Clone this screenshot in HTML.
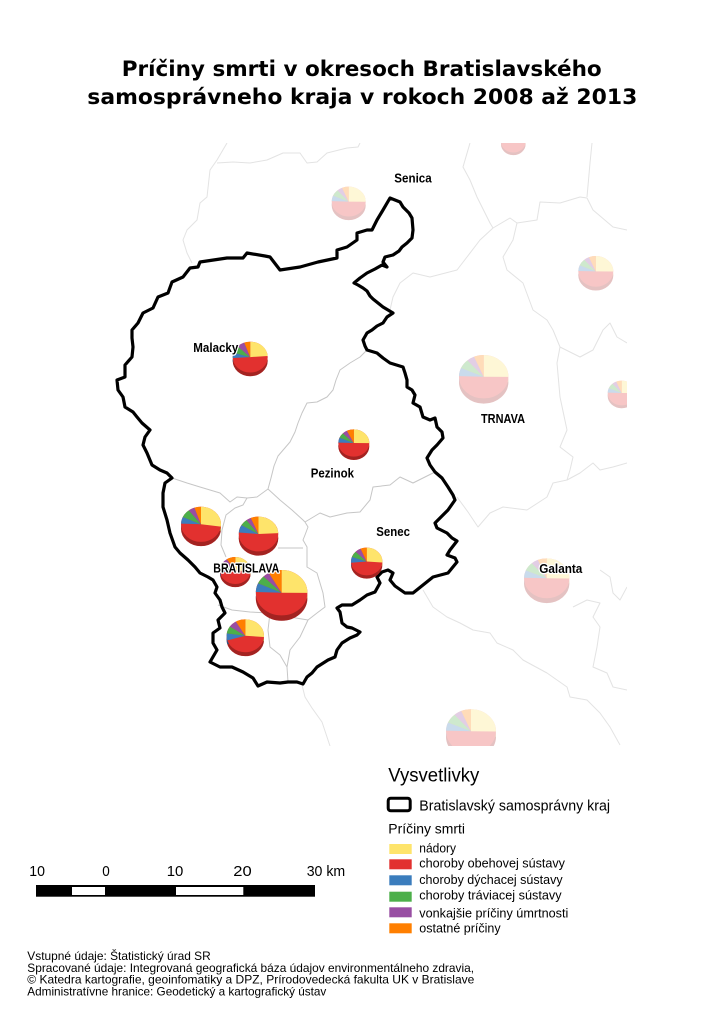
<!DOCTYPE html>
<html>
<head>
<meta charset="utf-8">
<style>
html,body{margin:0;padding:0;background:#fff;}
body{width:724px;height:1024px;overflow:hidden;}
svg{display:block;}
.t{font-family:"Liberation Sans",Arial,sans-serif;fill:#000;}
.lb{font-family:"Liberation Sans",Arial,sans-serif;font-weight:bold;fill:#000;stroke:#fff;stroke-width:2.6px;stroke-linejoin:round;paint-order:stroke;}
</style>
</head>
<body>
<svg xmlns="http://www.w3.org/2000/svg" xmlns:xlink="http://www.w3.org/1999/xlink" width="724" height="1024" viewBox="0 0 724 1024">
<defs>
<clipPath id="mc"><rect x="0" y="143" width="627" height="603"/></clipPath>

<g id="pMal" fill="none" stroke-width="31.831" transform="rotate(-90)">
<circle r="15.9155" stroke="#e2312f"/>
<circle r="15.9155" stroke="#fee46b" stroke-dasharray="23.6 100"/>
<circle r="15.9155" stroke="#3b7dbd" stroke-dasharray="5.6 100" stroke-dashoffset="-73.6"/>
<circle r="15.9155" stroke="#4caf4a" stroke-dasharray="7.6 100" stroke-dashoffset="-79.2"/>
<circle r="15.9155" stroke="#984ea3" stroke-dasharray="7 100" stroke-dashoffset="-86.8"/>
<circle r="15.9155" stroke="#ff7f00" stroke-dasharray="6.2 100" stroke-dashoffset="-93.8"/>
</g>
<g id="pBII" fill="none" stroke-width="31.831" transform="rotate(-90)">
<circle r="15.9155" stroke="#e2312f"/>
<circle r="15.9155" stroke="#fee46b" stroke-dasharray="25 100"/>
<circle r="15.9155" stroke="#3b7dbd" stroke-dasharray="6.3 100" stroke-dashoffset="-75"/>
<circle r="15.9155" stroke="#4caf4a" stroke-dasharray="5.8 100" stroke-dashoffset="-81.3"/>
<circle r="15.9155" stroke="#984ea3" stroke-dasharray="4 100" stroke-dashoffset="-87.1"/>
<circle r="15.9155" stroke="#ff7f00" stroke-dasharray="8.9 100" stroke-dashoffset="-91.1"/>
</g>
<g id="pBIV" fill="none" stroke-width="31.831" transform="rotate(-90)">
<circle r="15.9155" stroke="#e2312f"/>
<circle r="15.9155" stroke="#fee46b" stroke-dasharray="27 100"/>
<circle r="15.9155" stroke="#3b7dbd" stroke-dasharray="6.2 100" stroke-dashoffset="-75.1"/>
<circle r="15.9155" stroke="#4caf4a" stroke-dasharray="7.7 100" stroke-dashoffset="-81.3"/>
<circle r="15.9155" stroke="#984ea3" stroke-dasharray="5 100" stroke-dashoffset="-89"/>
<circle r="15.9155" stroke="#ff7f00" stroke-dasharray="6 100" stroke-dashoffset="-94"/>
</g>
<g id="pBIII" fill="none" stroke-width="31.831" transform="rotate(-90)">
<circle r="15.9155" stroke="#e2312f"/>
<circle r="15.9155" stroke="#fee46b" stroke-dasharray="24 100"/>
<circle r="15.9155" stroke="#3b7dbd" stroke-dasharray="7 100" stroke-dashoffset="-76"/>
<circle r="15.9155" stroke="#4caf4a" stroke-dasharray="6 100" stroke-dashoffset="-83"/>
<circle r="15.9155" stroke="#984ea3" stroke-dasharray="4 100" stroke-dashoffset="-89"/>
<circle r="15.9155" stroke="#ff7f00" stroke-dasharray="7 100" stroke-dashoffset="-93"/>
</g>
<g id="pBV" fill="none" stroke-width="31.831" transform="rotate(-90)">
<circle r="15.9155" stroke="#e2312f"/>
<circle r="15.9155" stroke="#fee46b" stroke-dasharray="26 100"/>
<circle r="15.9155" stroke="#3b7dbd" stroke-dasharray="7 100" stroke-dashoffset="-70"/>
<circle r="15.9155" stroke="#4caf4a" stroke-dasharray="7 100" stroke-dashoffset="-77"/>
<circle r="15.9155" stroke="#984ea3" stroke-dasharray="7 100" stroke-dashoffset="-84"/>
<circle r="15.9155" stroke="#ff7f00" stroke-dasharray="9 100" stroke-dashoffset="-91"/>
</g>
<g id="pBI" fill="none" stroke-width="31.831" transform="rotate(-90)">
<circle r="15.9155" stroke="#e2312f"/>
<circle r="15.9155" stroke="#fee46b" stroke-dasharray="26 100"/>
<circle r="15.9155" stroke="#3b7dbd" stroke-dasharray="6 100" stroke-dashoffset="-72"/>
<circle r="15.9155" stroke="#4caf4a" stroke-dasharray="6 100" stroke-dashoffset="-78"/>
<circle r="15.9155" stroke="#984ea3" stroke-dasharray="6 100" stroke-dashoffset="-84"/>
<circle r="15.9155" stroke="#ff7f00" stroke-dasharray="10 100" stroke-dashoffset="-90"/>
</g>
<g id="pPez" fill="none" stroke-width="31.831" transform="rotate(-90)">
<circle r="15.9155" stroke="#e2312f"/>
<circle r="15.9155" stroke="#fee46b" stroke-dasharray="25 100"/>
<circle r="15.9155" stroke="#3b7dbd" stroke-dasharray="6 100" stroke-dashoffset="-75"/>
<circle r="15.9155" stroke="#4caf4a" stroke-dasharray="6 100" stroke-dashoffset="-81"/>
<circle r="15.9155" stroke="#984ea3" stroke-dasharray="5 100" stroke-dashoffset="-87"/>
<circle r="15.9155" stroke="#ff7f00" stroke-dasharray="8 100" stroke-dashoffset="-92"/>
</g>
<g id="pSen" fill="none" stroke-width="31.831" transform="rotate(-90)">
<circle r="15.9155" stroke="#e2312f"/>
<circle r="15.9155" stroke="#fee46b" stroke-dasharray="26 100"/>
<circle r="15.9155" stroke="#3b7dbd" stroke-dasharray="7 100" stroke-dashoffset="-73"/>
<circle r="15.9155" stroke="#4caf4a" stroke-dasharray="7 100" stroke-dashoffset="-80"/>
<circle r="15.9155" stroke="#984ea3" stroke-dasharray="6 100" stroke-dashoffset="-87"/>
<circle r="15.9155" stroke="#ff7f00" stroke-dasharray="7 100" stroke-dashoffset="-93"/>
</g>
<g id="pF" fill="none" stroke-width="31.831" transform="rotate(-90)">
<circle r="15.9155" stroke="#e2312f"/>
<circle r="15.9155" stroke="#fee46b" stroke-dasharray="25 100"/>
<circle r="15.9155" stroke="#3b7dbd" stroke-dasharray="6 100" stroke-dashoffset="-75"/>
<circle r="15.9155" stroke="#4caf4a" stroke-dasharray="7 100" stroke-dashoffset="-81"/>
<circle r="15.9155" stroke="#984ea3" stroke-dasharray="5 100" stroke-dashoffset="-88"/>
<circle r="15.9155" stroke="#ff7f00" stroke-dasharray="7 100" stroke-dashoffset="-93"/>
</g>
</defs>

<rect width="724" height="1024" fill="#fff"/>

<!-- Title -->
<text x="121.7" y="76" font-family="'DejaVu Sans',Verdana,sans-serif" font-weight="bold" font-size="21.7" textLength="480" lengthAdjust="spacingAndGlyphs">Príčiny smrti v okresoch Bratislavského</text>
<text x="87.3" y="104" font-family="'DejaVu Sans',Verdana,sans-serif" font-weight="bold" font-size="21.7" textLength="550" lengthAdjust="spacingAndGlyphs">samosprávneho kraja v rokoch 2008 až 2013</text>

<!-- Map -->
<g clip-path="url(#mc)">
 <g fill="none" stroke="#e3e3e3" stroke-width="1" stroke-linejoin="round">
  <polyline points="227,143 217,160 210,170 207,197 200,203 197,220 187,230 183,240 187,253 192,263"/>
  <polyline points="217,163 233,162 250,163 267,160 283,153 300,153 307,163 317,162 327,153 347,148 358,147 360,143"/>
  <polyline points="470,143 463,167 470,180 477,197 490,223 493,228 480,240 467,257 457,270 430,277 413,273 400,283 393,297 390,310"/>
  <polyline points="493,228 510,218 517,223 537,220 540,202 560,203 580,197 587,198 593,210 613,227 627,230"/>
  <polyline points="587,197 590,163 592,143"/>
  <polyline points="517,223 513,240 503,257 507,270 523,283 533,310 547,320 553,330 560,347 580,357 593,350 603,330 610,323 617,337 627,343"/>
  <polyline points="560,347 557,363 560,397 567,430 560,447 573,457 570,470 567,480"/>
  <polyline points="457,497 468,512 478,527 490,513 503,507 527,510 547,497 553,483 567,480 580,473 593,463 600,470 613,467 627,463"/>
  <polyline points="423,590 433,607 447,617 460,623 473,630 490,633 497,643 513,650 523,660 547,673 567,687 570,697 587,700 600,713 610,727 620,745"/>
  <polyline points="573,607 587,600 600,603 593,617 600,627 597,647 593,667 607,673 613,687 627,690"/>
  <polyline points="600,570 610,577 613,593 620,600 627,587"/>
  <polyline points="302,685 305,697 312,708 322,722 330,746"/>
 </g>
 <!-- faded neighbour pies -->
 <g opacity="0.27">
  <use href="#pF" transform="translate(348.7,205.2) scale(.5341,.4700)"/>
  <ellipse cx="348.7" cy="205.2" rx="17" ry="14.96" fill="#000" fill-opacity=".3"/>
  <use href="#pF" transform="translate(348.7,201.6) scale(.5341,.4700)"/>
 </g>
 <g opacity="0.27">
  <use href="#pF" transform="translate(513.3,144.3) scale(.3864,.3400)"/>
  <ellipse cx="513.3" cy="144.3" rx="12.3" ry="10.8" fill="#000" fill-opacity=".3"/>
  <use href="#pF" transform="translate(513.3,141.7) scale(.3864,.3400)"/>
 </g>
 <g opacity="0.27">
  <use href="#pF" transform="translate(595.8,275.1) scale(.5498,.4838)"/>
  <ellipse cx="595.8" cy="275.1" rx="17.5" ry="15.4" fill="#000" fill-opacity=".3"/>
  <use href="#pF" transform="translate(595.8,271.4) scale(.5498,.4838)"/>
 </g>
 <g opacity="0.27">
  <use href="#pF" transform="translate(483.7,381.9) scale(.7760,.6829)"/>
  <ellipse cx="483.7" cy="381.9" rx="24.7" ry="21.7" fill="#000" fill-opacity=".3"/>
  <use href="#pF" transform="translate(483.7,376.7) scale(.7760,.6829)"/>
 </g>
 <g opacity="0.27">
  <use href="#pF" transform="translate(621.7,395.9) scale(.4398,.3870)"/>
  <ellipse cx="621.7" cy="395.9" rx="14" ry="12.3" fill="#000" fill-opacity=".3"/>
  <use href="#pF" transform="translate(621.7,393) scale(.4398,.3870)"/>
 </g>
 <g opacity="0.27">
  <use href="#pF" transform="translate(546.7,583.1) scale(.7131,.6276)"/>
  <ellipse cx="546.7" cy="583.1" rx="22.7" ry="20" fill="#000" fill-opacity=".3"/>
  <use href="#pF" transform="translate(546.7,578.3) scale(.7131,.6276)"/>
 </g>
 <g opacity="0.27">
  <use href="#pF" transform="translate(471,736.6) scale(.7854,.6912)"/>
  <ellipse cx="471" cy="736.6" rx="25" ry="22" fill="#000" fill-opacity=".3"/>
  <use href="#pF" transform="translate(471,731.3) scale(.7854,.6912)"/>
 </g>
</g>

<!-- inner district borders -->
<g fill="none" stroke="#c6c6c6" stroke-width="1" stroke-linejoin="round">
 <polyline points="367,350 360,357 350,363 340,370 336,380 333,390 327,397 317,402 307,403 302,413 298,423 295,432 290,442 284,449 278,456 274,466 271,478 268,489 257,497 247,498 237,497 230,502 220,493 210,490 200,487 187,483 172,478"/>
 <polyline points="435,472 413,483 400,477 390,485 373,487 370,500 360,512 347,513 330,517 320,513 305,522"/>
 <polyline points="268,489 280,500 292,510 303,520 305,522"/>
 <polyline points="247,498 243,505 235,508 226,515 222,530 221,545 226,557"/>
 <polyline points="278,548 303,548"/>
 <polyline points="305,522 308,527 305,535 303,540 307,547 307,567 317,573 323,593 325,607 317,613 308,620 300,637 290,650 287,667 288,682"/>
 <polyline points="218,605 232,610 250,612 270,613 290,617 308,620"/>
 <polyline points="270,613 268,630 270,647 280,655 287,667"/>
</g>

<!-- Bratislava region outline -->
<path fill="none" stroke="#000" stroke-width="3.2" stroke-linejoin="round" stroke-linecap="round" d="M390,198 L400,202 L403,207 L409,213 L412,218 L413,230 L412,238 L407,243 L402,247 L399,251 L393,255 L385,257 L383,262 L387,267 L382,265 L375,269 L367,273 L360,278 L354,283 L358,285 L363,288 L367,291 L370,296 L373,299 L378,303 L383,307 L393,313 L387,317 L383,323 L377,326 L372,330 L367,333 L363,340 L365,346 L367,350 L377,353 L383,358 L390,363 L403,367 L405,373 L407,380 L407,387 L412,390 L415,395 L413,403 L420,407 L423,417 L430,420 L435,418 L437,427 L442,432 L443,438 L437,445 L432,450 L427,458 L430,465 L435,472 L442,478 L448,487 L453,495 L455,500 L448,510 L443,515 L435,523 L437,528 L447,533 L452,538 L457,541 L450,550 L447,555 L455,558 L457,562 L448,573 L433,577 L423,585 L413,593 L405,593 L395,586 L390,580 L393,573 L388,570 L382,572 L377,577 L380,583 L375,592 L367,595 L360,600 L352,605 L342,605 L337,608 L340,612 L342,623 L347,627 L352,628 L360,632 L357,635 L350,638 L342,643 L337,650 L335,657 L328,660 L317,667 L312,673 L307,677 L303,684 L297,682 L288,682 L280,683 L267,682 L258,686 L253,678 L243,672 L232,667 L220,667 L210,662 L217,650 L213,643 L213,633 L220,628 L218,620 L225,613 L222,607 L220,600 L215,593 L217,587 L213,580 L208,577 L200,573 L195,567 L188,560 L180,553 L175,547 L170,533 L167,520 L163,507 L163,493 L165,483 L172,478 L167,473 L160,470 L152,465 L147,453 L143,445 L145,437 L150,430 L142,423 L137,417 L133,412 L125,407 L123,397 L118,390 L117,380 L125,377 L125,365 L132,357 L133,347 L132,338 L132,330 L138,323 L143,313 L153,308 L158,297 L168,293 L172,282 L183,277 L190,268 L198,267 L200,262 L227,258 L243,258 L247,253 L265,256 L270,257 L280,270 L300,267 L318,262 L337,258 L337,250 L347,247 L357,240 L357,233 L367,230 L372,230 L377,220 L383,210 Z"/>

<!-- active pies -->
<g>
 <use href="#pMal" transform="translate(250.2,360.8) scale(.5498,.4838)"/>
 <ellipse cx="250.2" cy="360.8" rx="17.5" ry="15.4" fill="#000" fill-opacity=".28"/>
 <use href="#pMal" transform="translate(250.2,357.1) scale(.5498,.4838)"/>

 <use href="#pPez" transform="translate(353.8,446.3) scale(.4869,.4285)"/>
 <ellipse cx="353.8" cy="446.3" rx="15.5" ry="13.64" fill="#000" fill-opacity=".28"/>
 <use href="#pPez" transform="translate(353.8,443) scale(.4869,.4285)"/>

 <use href="#pSen" transform="translate(366.7,564.8) scale(.4932,.4340)"/>
 <ellipse cx="366.7" cy="564.8" rx="15.7" ry="13.8" fill="#000" fill-opacity=".28"/>
 <use href="#pSen" transform="translate(366.7,561.5) scale(.4932,.4340)"/>

 <use href="#pBIV" transform="translate(201,528.5) scale(.6283,.5529)"/>
 <ellipse cx="201" cy="528.5" rx="20" ry="17.6" fill="#000" fill-opacity=".28"/>
 <use href="#pBIV" transform="translate(201,524.3) scale(.6283,.5529)"/>

 <use href="#pBIII" transform="translate(258.5,538.2) scale(.6220,.5474)"/>
 <ellipse cx="258.5" cy="538.2" rx="19.8" ry="17.4" fill="#000" fill-opacity=".28"/>
 <use href="#pBIII" transform="translate(258.5,534) scale(.6220,.5474)"/>

 <use href="#pBI" transform="translate(235.3,573.7) scale(.4807,.4230)"/>
 <ellipse cx="235.3" cy="573.7" rx="15.3" ry="13.46" fill="#000" fill-opacity=".28"/>
 <use href="#pBI" transform="translate(235.3,570.5) scale(.4807,.4230)"/>

 <use href="#pBII" transform="translate(281.6,598.1) scale(.8105,.7133)"/>
 <ellipse cx="281.6" cy="598.1" rx="25.8" ry="22.7" fill="#000" fill-opacity=".28"/>
 <use href="#pBII" transform="translate(281.6,592.7) scale(.8105,.7133)"/>

 <use href="#pBV" transform="translate(245.3,639.7) scale(.5875,.5170)"/>
 <ellipse cx="245.3" cy="639.7" rx="18.7" ry="16.46" fill="#000" fill-opacity=".28"/>
 <use href="#pBV" transform="translate(245.3,635.8) scale(.5875,.5170)"/>
</g>

<!-- place labels -->
<text class="lb" x="394.3" y="182.5" font-size="13" textLength="37.4" lengthAdjust="spacingAndGlyphs">Senica</text>
<text class="lb" x="193.3" y="352" font-size="13" textLength="45" lengthAdjust="spacingAndGlyphs">Malacky</text>
<text class="lb" x="310.7" y="477.3" font-size="13" textLength="43.3" lengthAdjust="spacingAndGlyphs">Pezinok</text>
<text class="lb" x="376.3" y="536" font-size="13" textLength="33.7" lengthAdjust="spacingAndGlyphs">Senec</text>
<text class="lb" x="213.3" y="572.6" font-size="12.5" textLength="66" lengthAdjust="spacingAndGlyphs">BRATISLAVA</text>
<text class="lb" x="481" y="423" font-size="13" textLength="44" lengthAdjust="spacingAndGlyphs">TRNAVA</text>
<text class="lb" x="539.3" y="573" font-size="13" textLength="43" lengthAdjust="spacingAndGlyphs">Galanta</text>

<!-- Legend -->
<text class="t" x="388.3" y="781.7" font-size="19" textLength="91" lengthAdjust="spacingAndGlyphs">Vysvetlivky</text>
<rect x="388.2" y="798.2" width="22" height="12.6" rx="2.5" fill="#fff" stroke="#000" stroke-width="3"/>
<text class="t" x="419.3" y="810.7" font-size="14.5" textLength="190.7" lengthAdjust="spacingAndGlyphs">Bratislavský samosprávny kraj</text>
<text class="t" x="388.3" y="833.3" font-size="14" textLength="76.7" lengthAdjust="spacingAndGlyphs">Príčiny smrti</text>

<rect x="389.3" y="844" width="22.4" height="10" fill="#fee46b"/>
<rect x="389.3" y="859.3" width="22.4" height="10" fill="#e2312f"/>
<rect x="389.3" y="875.3" width="22.4" height="10" fill="#3b7dbd"/>
<rect x="389.3" y="891.7" width="22.4" height="10" fill="#4caf4a"/>
<rect x="389.3" y="907.3" width="22.4" height="10" fill="#984ea3"/>
<rect x="389.3" y="923.3" width="22.4" height="10" fill="#ff7f00"/>

<g class="t" font-size="12.6">
 <text x="419.3" y="852.7" textLength="36.7" lengthAdjust="spacingAndGlyphs">nádory</text>
 <text x="419.3" y="867.5" textLength="145.7" lengthAdjust="spacingAndGlyphs">choroby obehovej sústavy</text>
 <text x="419.3" y="884" textLength="143.3" lengthAdjust="spacingAndGlyphs">choroby dýchacej sústavy</text>
 <text x="419.3" y="899.5" textLength="142.3" lengthAdjust="spacingAndGlyphs">choroby tráviacej sústavy</text>
 <text x="419.3" y="917.3" textLength="149" lengthAdjust="spacingAndGlyphs">vonkajšie príčiny úmrtnosti</text>
 <text x="419.3" y="932.3" textLength="81.3" lengthAdjust="spacingAndGlyphs">ostatné príčiny</text>
</g>

<!-- Scale bar -->
<g class="t" font-size="15">
 <text x="29.3" y="876" textLength="15.7" lengthAdjust="spacingAndGlyphs">10</text>
 <text x="102.3" y="876" textLength="7.5" lengthAdjust="spacingAndGlyphs">0</text>
 <text x="166.7" y="876" textLength="16.6" lengthAdjust="spacingAndGlyphs">10</text>
 <text x="233.3" y="876" textLength="18.4" lengthAdjust="spacingAndGlyphs">20</text>
 <text x="306.7" y="876" textLength="38.5" lengthAdjust="spacingAndGlyphs">30 km</text>
</g>
<rect x="36" y="885" width="279" height="11.7" fill="#000"/>
<rect x="72" y="887" width="33" height="8" fill="#fff"/>
<rect x="176" y="887" width="67.3" height="8" fill="#fff"/>

<!-- Footer -->
<g class="t" font-size="12">
 <text x="27.3" y="960" textLength="183.4" lengthAdjust="spacingAndGlyphs">Vstupné údaje: Štatistický úrad SR</text>
 <text x="27.3" y="971.8" textLength="446.7" lengthAdjust="spacingAndGlyphs">Spracované údaje: Integrovaná geografická báza údajov environmentálneho zdravia,</text>
 <text x="27.3" y="983.5" textLength="447" lengthAdjust="spacingAndGlyphs">© Katedra kartografie, geoinfomatiky a DPZ, Prírodovedecká fakulta UK v Bratislave</text>
 <text x="27.3" y="995.3" textLength="299" lengthAdjust="spacingAndGlyphs">Administratívne hranice: Geodetický a kartografický ústav</text>
</g>
</svg>
</body>
</html>
